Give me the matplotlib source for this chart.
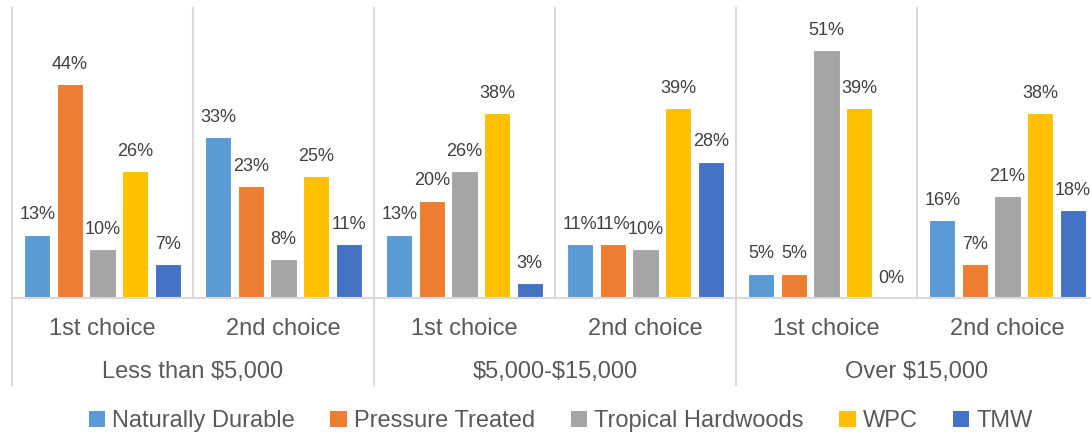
import numpy as np
import matplotlib
matplotlib.use("Agg")
import matplotlib.pyplot as plt
import matplotlib.transforms as mtransforms
from matplotlib.patches import Patch

plt.rcParams['font.family'] = ['Liberation Sans', 'DejaVu Sans']

# data
price_groups = ["Less than $5,000", "$5,000-$15,000", "Over $15,000"]
choices = ["1st choice", "2nd choice"]
series = ["Naturally Durable", "Pressure Treated", "Tropical Hardwoods", "WPC", "TMW"]
colors = ["#5B9BD5", "#ED7D31", "#A5A5A5", "#FFC000", "#4472C4"]

naturally_durable = [13, 33, 13, 11, 5, 16]
pressure_treated = [44, 23, 20, 11, 5, 7]
tropical_hardwoods = [10, 8, 26, 10, 51, 21]
wpc = [26, 25, 38, 39, 39, 38]
tmw = [7, 11, 3, 28, 0, 18]
values = [naturally_durable, pressure_treated, tropical_hardwoods, wpc, tmw]

n_cat = len(price_groups) * len(choices)
x = np.arange(n_cat)

fig = plt.figure(figsize=(10.91, 4.34), dpi=100)
ax = fig.add_axes([12 / 1091, 136 / 434, 1086 / 1091, 290 / 434])

slot = 0.18
bw = slot * 0.8
for i, (name, vals, c) in enumerate(zip(series, values, colors)):
    xs = x + (i - 2) * slot
    ax.bar(xs, vals, width=bw, color=c, edgecolor="white", linewidth=0.8, label=name)
    for xi, v in zip(xs, vals):
        ax.annotate(f"{v}%", (xi, v), xytext=(0, 11), textcoords="offset points",
                    ha="center", va="baseline", fontsize=13, color="#404040")

ax.set_xlim(-0.5, n_cat - 0.5)
ax.set_ylim(0, 59.6)
ax.axis("off")

grid_c = "#D9D9D9"
trans = mtransforms.blended_transform_factory(ax.transData, ax.transAxes)
ax.plot([-0.5, n_cat - 0.5], [0, 0], transform=trans, color=grid_c, lw=1.5, clip_on=False)
for b in np.arange(-0.5, n_cat, 1.0):
    long = int(round(b + 0.5)) % 2 == 0
    ax.plot([b, b], [1, -0.3 if long else 0], transform=trans, color=grid_c,
            lw=1.5, clip_on=False)

for xi in x:
    ax.text(xi, -0.107, choices[xi % 2], transform=trans, ha="center", va="center",
            fontsize=17, color="#595959")
for g, name in enumerate(price_groups):
    ax.text(2 * g + 0.5, -0.255, name, transform=trans, ha="center", va="center",
            fontsize=17, color="#595959", parse_math=False)

handles = [Patch(facecolor=c, edgecolor="none") for c in colors]
leg = fig.legend(handles, series, loc="center", bbox_to_anchor=(0.514, 0.029), ncol=5,
                 frameon=False, fontsize=17, handlelength=0.7, handleheight=0.7,
                 handletextpad=0.3, columnspacing=1.5)
for t in leg.get_texts():
    t.set_color("#595959")

fig.savefig("out.png", dpi=100)
